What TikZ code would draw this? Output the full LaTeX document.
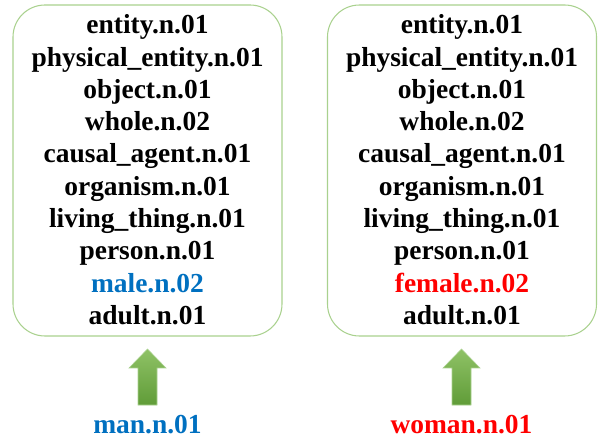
\documentclass[tikz,border=0pt]{standalone}
\usepackage{fontspec}
\setmainfont{Liberation Serif}
\usepackage{tikz}
\definecolor{boxgreen}{RGB}{169,209,142}
\definecolor{arrowtop}{RGB}{143,194,102}
\definecolor{arrowbottom}{RGB}{96,156,56}
\definecolor{manblue}{RGB}{0,112,192}
\definecolor{womanred}{RGB}{255,0,0}

\begin{document}
\begin{tikzpicture}[x=0.75pt, y=0.75pt,
    synset/.style={anchor=base, inner sep=0pt, font=\fontsize{20.6}{24}\selectfont\bfseries},
    hypernyms/.style={draw=boxgreen, line width=0.8pt, rounded corners=24pt,
        minimum width=201.75pt, minimum height=248.25pt}]
                \useasboundingbox (0,0) rectangle (600,443);
                \node[hypernyms] (manbox) at (147.5,272.5) {};
                \node[hypernyms] (womanbox) at (462,272.5) {};

                \foreach \w [count=\i] in {entity.n.01, physical\_entity.n.01, object.n.01, whole.n.02,
                    causal\_agent.n.01, organism.n.01, living\_thing.n.01, person.n.01,
                    \textcolor{manblue}{male.n.02}, adult.n.01} {
                    \node[synset] (m\i) at (147.5,441.5-32.3*\i) {\w};
                }
                \foreach \w [count=\i] in {entity.n.01, physical\_entity.n.01, object.n.01, whole.n.02,
                    causal\_agent.n.01, organism.n.01, living\_thing.n.01, person.n.01,
                    \textcolor{womanred}{female.n.02}, adult.n.01} {
                    \node[synset] (w\i) at (462,441.5-32.3*\i) {\w};
                }

                \node[synset, text=manblue] (man) at (147.5,10) {man.n.01};
                \node[synset, text=womanred] (woman) at (461.5,10) {woman.n.01};

                \foreach \x in {147.5, 461.5} {
                    \shade[top color=arrowtop, bottom color=arrowbottom, draw=boxgreen, line width=0.4pt]
                        (\x-9.5,38) -- (\x+9.5,38) -- (\x+9.5,75) -- (\x+18.5,75) -- (\x,94)
                        -- (\x-18.5,75) -- (\x-9.5,75) -- cycle;
                }
            \end{tikzpicture}
\end{document}
